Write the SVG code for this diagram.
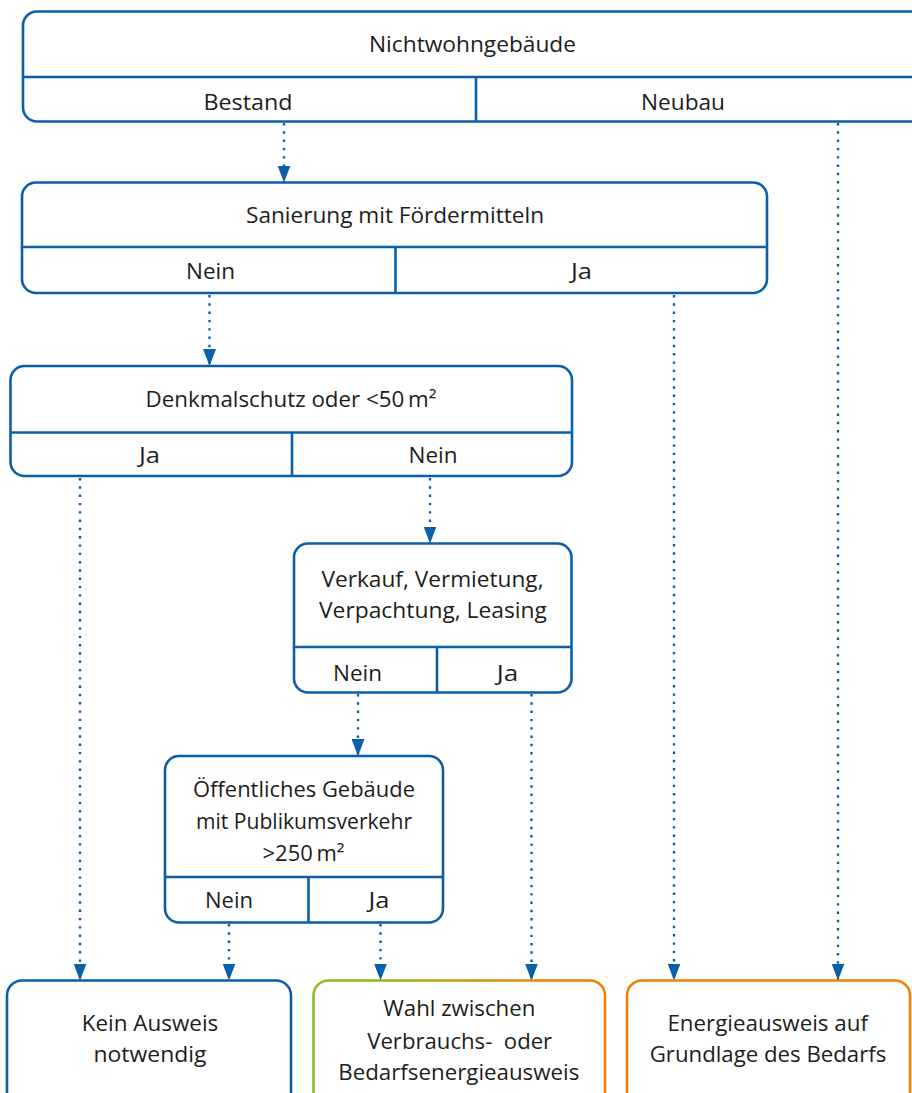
<svg xmlns="http://www.w3.org/2000/svg" width="912" height="1093" viewBox="0 0 912 1093">
<style>
  .box{fill:#ffffff;stroke:#0a5fab;stroke-width:2.6}
  .div{stroke:#0a5fab;stroke-width:2.6;fill:none}
  .t{font-family:"Open Sans","Noto Sans","Liberation Sans",sans-serif;font-size:22px;fill:#1d1d1b;text-anchor:middle}
  .con{stroke:#0a5fab;stroke-width:2.4;stroke-dasharray:2.4 5.9;fill:none}
</style>
<defs>
  <marker id="arr" viewBox="0 0 17 13" refX="17" refY="6.5" markerWidth="17" markerHeight="13" markerUnits="userSpaceOnUse" orient="auto">
    <path d="M0,0 L17,6.5 L0,13 Z" fill="#0a5fab"/>
  </marker>
  <linearGradient id="gy" gradientUnits="userSpaceOnUse" x1="314" y1="0" x2="605" y2="0">
    <stop offset="0" stop-color="#8dbb25"/>
    <stop offset="0.18" stop-color="#8dbb25"/>
    <stop offset="0.78" stop-color="#ee8200"/>
    <stop offset="1" stop-color="#ee8200"/>
  </linearGradient>
</defs>

<g id="connectors">
  <line class="con" x1="284" y1="123" x2="284" y2="182.5" marker-end="url(#arr)"/>
  <line class="con" x1="838" y1="123" x2="838" y2="980.5" marker-end="url(#arr)"/>
  <line class="con" x1="209.5" y1="295" x2="209.5" y2="366" marker-end="url(#arr)"/>
  <line class="con" x1="674" y1="295" x2="674" y2="980.5" marker-end="url(#arr)"/>
  <line class="con" x1="80" y1="478" x2="80" y2="980.5" marker-end="url(#arr)"/>
  <line class="con" x1="430" y1="478" x2="430" y2="543.5" marker-end="url(#arr)"/>
  <line class="con" x1="358" y1="694" x2="358" y2="756" marker-end="url(#arr)"/>
  <line class="con" x1="531.5" y1="694" x2="531.5" y2="980.5" marker-end="url(#arr)"/>
  <line class="con" x1="229" y1="924" x2="229" y2="980.5" marker-end="url(#arr)"/>
  <line class="con" x1="380.5" y1="924" x2="380.5" y2="980.5" marker-end="url(#arr)"/>
</g>

<g id="n-nichtwohngebaeude">
  <rect class="box" x="23" y="11.5" width="912" height="110" rx="14"/>
  <line class="div" x1="23" y1="77" x2="935" y2="77"/>
  <line class="div" x1="476" y1="77" x2="476" y2="121.5"/>
  <text class="t" x="472.5" y="52" textLength="207" lengthAdjust="spacingAndGlyphs">Nichtwohngebäude</text>
  <text class="t" x="248" y="110" textLength="89" lengthAdjust="spacingAndGlyphs">Bestand</text>
  <text class="t" x="683" y="110" textLength="84" lengthAdjust="spacingAndGlyphs">Neubau</text>
</g>

<g id="n-sanierung">
  <rect class="box" x="22" y="182.5" width="745" height="110.5" rx="14"/>
  <line class="div" x1="22" y1="247" x2="767" y2="247"/>
  <line class="div" x1="395.5" y1="247" x2="395.5" y2="293"/>
  <text class="t" x="395" y="223" textLength="298" lengthAdjust="spacingAndGlyphs">Sanierung mit Fördermitteln</text>
  <text class="t" x="210.5" y="279" textLength="49" lengthAdjust="spacingAndGlyphs">Nein</text>
  <text class="t" x="581.5" y="279" textLength="21" lengthAdjust="spacingAndGlyphs">Ja</text>
</g>

<g id="n-denkmalschutz">
  <rect class="box" x="10.5" y="366" width="561.5" height="110" rx="14"/>
  <line class="div" x1="10.5" y1="432.5" x2="572" y2="432.5"/>
  <line class="div" x1="292" y1="432.5" x2="292" y2="476"/>
  <text class="t" x="291" y="406.5" textLength="291" lengthAdjust="spacingAndGlyphs">Denkmalschutz oder &lt;50&#8201;m²</text>
  <text class="t" x="149.5" y="463" textLength="21" lengthAdjust="spacingAndGlyphs">Ja</text>
  <text class="t" x="433" y="463" textLength="49" lengthAdjust="spacingAndGlyphs">Nein</text>
</g>

<g id="n-verkauf">
  <rect class="box" x="294" y="543.5" width="277.5" height="149" rx="14"/>
  <line class="div" x1="294" y1="647" x2="571.5" y2="647"/>
  <line class="div" x1="437" y1="647" x2="437" y2="692.5"/>
  <text class="t" x="432.5" y="586.5" textLength="222" lengthAdjust="spacingAndGlyphs">Verkauf, Vermietung,</text>
  <text class="t" x="433" y="618" textLength="228" lengthAdjust="spacingAndGlyphs">Verpachtung, Leasing</text>
  <text class="t" x="357.5" y="680.5" textLength="49" lengthAdjust="spacingAndGlyphs">Nein</text>
  <text class="t" x="507.5" y="680.5" textLength="21.5" lengthAdjust="spacingAndGlyphs">Ja</text>
</g>

<g id="n-oeffentlich">
  <rect class="box" x="165" y="756" width="278" height="166.5" rx="14"/>
  <line class="div" x1="165" y1="877" x2="443" y2="877"/>
  <line class="div" x1="308.5" y1="877" x2="308.5" y2="922.5"/>
  <text class="t" x="304" y="797" textLength="222" lengthAdjust="spacingAndGlyphs">Öffentliches Gebäude</text>
  <text class="t" x="304" y="829" textLength="216" lengthAdjust="spacingAndGlyphs">mit Publikumsverkehr</text>
  <text class="t" x="303.5" y="860.5" textLength="82" lengthAdjust="spacingAndGlyphs">&gt;250&#8201;m²</text>
  <text class="t" x="229" y="908" textLength="48" lengthAdjust="spacingAndGlyphs">Nein</text>
  <text class="t" x="379" y="908" textLength="21" lengthAdjust="spacingAndGlyphs">Ja</text>
</g>

<g id="n-kein-ausweis">
  <rect class="box" x="7" y="980.5" width="284" height="140" rx="15"/>
  <text class="t" x="150" y="1030.5" textLength="136.5" lengthAdjust="spacingAndGlyphs">Kein Ausweis</text>
  <text class="t" x="150" y="1061.5" textLength="113" lengthAdjust="spacingAndGlyphs">notwendig</text>
</g>

<g id="n-wahl">
  <rect x="313.5" y="980.5" width="291.5" height="140" rx="15" fill="#ffffff" stroke="url(#gy)" stroke-width="2.6"/>
  <text class="t" x="459.3" y="1016" textLength="152" lengthAdjust="spacingAndGlyphs">Wahl zwischen</text>
  <text class="t" x="459.7" y="1049" textLength="185" lengthAdjust="spacingAndGlyphs">Verbrauchs-&#160; oder</text>
  <text class="t" x="458.8" y="1080" textLength="241" lengthAdjust="spacingAndGlyphs">Bedarfsenergieausweis</text>
</g>

<g id="n-energieausweis">
  <rect x="627" y="980.5" width="283" height="140" rx="15" fill="#ffffff" stroke="#ee8200" stroke-width="2.6"/>
  <text class="t" x="767.7" y="1030.5" textLength="200.6" lengthAdjust="spacingAndGlyphs">Energieausweis auf</text>
  <text class="t" x="768" y="1061.5" textLength="236.6" lengthAdjust="spacingAndGlyphs">Grundlage des Bedarfs</text>
</g>
</svg>
